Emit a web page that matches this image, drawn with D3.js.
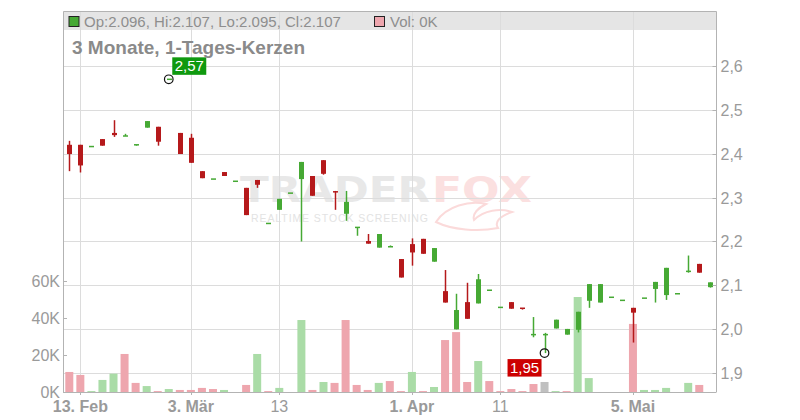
<!DOCTYPE html>
<html><head><meta charset="utf-8">
<script src="https://cdn.jsdelivr.net/npm/d3@7"></script>
<style>body{margin:0;background:#fff}svg{display:block;font-family:"Liberation Sans",Arial,sans-serif}</style>
</head><body><svg id="c" width="800" height="420"></svg>
<script>
// ---- data ----
const openP  = [2.420,2.420,2.416,2.433,2.447,2.440,2.418,2.459,2.461,2.569,2.447,2.436,2.360,2.342,2.358,2.337,2.322,2.340,2.241,2.272,2.310,2.342,2.349,2.385,2.313,2.263,2.229,2.201,2.186,2.188,2.160,2.194,2.206,2.154,2.087,2.000,2.062,2.059,2.089,2.050,2.062,2.048,1.988,1.988,2.002,1.988,1.999,2.065,2.061,2.073,2.066,2.049,2.071,2.092,2.078,2.081,2.129,2.149,2.096];
const highP  = [2.429,2.420,2.416,2.433,2.476,2.445,2.420,2.474,2.461,2.569,2.447,2.445,2.360,2.342,2.358,2.337,2.322,2.340,2.241,2.297,2.310,2.381,2.349,2.385,2.315,2.315,2.232,2.217,2.217,2.191,2.160,2.207,2.206,2.185,2.135,2.081,2.106,2.126,2.089,2.050,2.062,2.048,2.028,1.992,2.022,2.001,2.040,2.103,2.103,2.073,2.066,2.049,2.071,2.108,2.140,2.081,2.168,2.149,2.107];
const lowP   = [2.360,2.357,2.416,2.418,2.438,2.440,2.418,2.459,2.418,2.569,2.399,2.379,2.344,2.342,2.349,2.337,2.260,2.322,2.241,2.272,2.310,2.200,2.304,2.352,2.272,2.247,2.213,2.195,2.186,2.188,2.118,2.145,2.172,2.154,2.061,2.000,2.024,2.059,2.089,2.050,2.047,2.045,1.982,1.946,2.002,1.988,1.993,2.049,2.061,2.073,2.066,1.970,2.071,2.061,2.067,2.081,2.129,2.129,2.095];
const closeP = [2.399,2.373,2.416,2.418,2.442,2.440,2.420,2.474,2.427,2.569,2.399,2.379,2.344,2.342,2.349,2.337,2.260,2.329,2.241,2.297,2.310,2.381,2.304,2.354,2.312,2.290,2.232,2.195,2.217,2.188,2.118,2.175,2.172,2.185,2.061,2.044,2.024,2.114,2.089,2.050,2.047,2.045,1.988,1.988,2.022,2.001,2.040,2.103,2.103,2.073,2.066,2.038,2.071,2.108,2.140,2.081,2.132,2.129,2.107];
const volumeK = [10.8,9.2,0.5,6.5,9.9,20.5,4.9,3.2,0.5,1.6,1.1,1.1,2.2,1.6,1.1,0,3.8,20.5,0.5,2.2,0,38.8,1.1,5.4,4.9,38.8,3.8,1.1,4.9,5.9,0.5,10.8,0.5,2.7,28.0,32.3,5.4,16.7,5.9,0.5,1.6,0.5,4.3,5.4,0.5,0.5,51.2,7.5,0,0,0,36.7,1.1,1.1,2.2,0,4.9,3.8,0];
const xTickIndex  = [1, 11, 19, 31, 39, 51];
const xTickLabels = ["13. Feb", "3. Mär", "13", "1. Apr", "11", "5. Mai"];
const priceTicks  = [1.9, 2.0, 2.1, 2.2, 2.3, 2.4, 2.5, 2.6];
const volumeTicks = [0, 20000, 40000, 60000];
const titleText = "3 Monate, 1-Tages-Kerzen";
const lastIdx = openP.length - 1;

// ---- layout ----
const L = 63, R = 716.5, T = 11.5, LB = 30, B = 392;
const svg = d3.select("#c");
const x = d3.scaleLinear().domain([-0.57, 58.56]).range([L, R]);
const y = d3.scaleLinear().domain([1.9, 2.6]).range([373.3, 65.7]);
const yv = d3.scaleLinear().domain([0, 60000]).range([B, 280.7]);
const fmtP = v => d3.format(".1f")(v).replace(".", ",");
const fmt2 = v => d3.format(".2f")(v).replace(".", ",");
const fmt3 = v => d3.format(".3f")(v);

const RED = "#b5191b", GREEN = "#46a934";
const VPINK = "#eea6ae", VGREEN = "#aadca7", VGRAY = "#c0c0c0";

const data = openP.map((o, i) => ({i, o, h: highP[i], l: lowP[i], c: closeP[i], v: volumeK[i] * 1000}));

// legend bar
svg.append("rect").attr("x", L).attr("y", T).attr("width", R - L).attr("height", LB - T).attr("fill", "#e5e5e5");

// watermark
const wm = svg.append("g");
wm.append("text").attr("x", 240).attr("y", 202).attr("font-size", 36).attr("font-weight", "bold")
  .attr("font-family", "DejaVu Sans").attr("textLength", 190).attr("lengthAdjust", "spacingAndGlyphs")
  .attr("fill", "#e8e8e8").text("TRADER");
wm.append("text").attr("x", 432).attr("y", 202).attr("font-size", 36).attr("font-weight", "bold")
  .attr("font-family", "DejaVu Sans").attr("textLength", 100).attr("lengthAdjust", "spacingAndGlyphs")
  .attr("fill", "#fbe0e0").text("FOX");
wm.append("text").attr("x", 251).attr("y", 222).attr("font-size", 10.5)
  .attr("textLength", 177).attr("lengthAdjust", "spacing")
  .attr("fill", "#e3e3e3").text("REALTIME STOCK SCREENING");
wm.append("path").attr("d", "M436,222 C446,206 470,200 486,204 C478,208 472,214 474,220 C484,210 500,208 512,212 C500,216 494,222 498,228 C478,232 452,230 436,222 Z")
  .attr("fill", "none").attr("stroke", "#fbdada").attr("stroke-width", 2);

// grid
svg.append("g").selectAll("line").data(priceTicks).join("line")
  .attr("x1", L).attr("x2", R).attr("y1", d => Math.round(y(d)) + 0.5).attr("y2", d => Math.round(y(d)) + 0.5)
  .attr("stroke", "#dcdcdc");
svg.append("g").selectAll("line").data(xTickIndex).join("line")
  .attr("x1", d => Math.round(x(d)) + 0.5).attr("x2", d => Math.round(x(d)) + 0.5).attr("y1", T).attr("y2", B)
  .attr("stroke", "#dcdcdc");

// frame
svg.append("path").attr("d", `M${L+0.5},${B} V${T} H${R} V${B}`).attr("fill", "none").attr("stroke", "#b3b3b3");
svg.append("line").attr("x1", L).attr("x2", R).attr("y1", B + 0.5).attr("y2", B + 0.5).attr("stroke", "#b3b3b3");

// volume bars
const vcol = d => {
  const prev = d.i > 0 ? closeP[d.i - 1] : d.o;
  return d.c > prev ? VGREEN : (d.c < prev ? VPINK : VGRAY);
};
svg.append("g").selectAll("rect").data(data.filter(d => d.v > 0)).join("rect")
  .attr("x", d => x(d.i) - 4).attr("width", 8)
  .attr("y", d => yv(d.v)).attr("height", d => B - yv(d.v))
  .attr("fill", vcol);

// candles
const cg = svg.append("g");
const col = d => d.c >= d.o ? GREEN : RED;
cg.selectAll("line").data(data).join("line")
  .attr("x1", d => Math.round(x(d.i)) + 0.5).attr("x2", d => Math.round(x(d.i)) + 0.5)
  .attr("y1", d => y(d.h)).attr("y2", d => y(d.l))
  .attr("stroke", col).attr("stroke-width", 1.5);
cg.selectAll("rect").data(data).join("rect")
  .attr("x", d => Math.round(x(d.i)) - 2).attr("width", 5)
  .attr("y", d => Math.min(y(d.o), y(d.c)) - (Math.abs(y(d.o) - y(d.c)) < 1.5 ? 0.75 : 0))
  .attr("height", d => Math.max(1.5, Math.abs(y(d.o) - y(d.c))))
  .attr("fill", col);

// high / low markers
const hiD = data[d3.maxIndex(data, d => d.h)];
const loD = data[d3.minIndex(data, d => d.l)];
function marker(d, val, isHigh) {
  const cx = x(d.i), cy = y(val);
  svg.append("circle").attr("cx", cx).attr("cy", cy).attr("r", 4.3).attr("fill", "none").attr("stroke", "#111").attr("stroke-width", 1.2);
  const w = 34, h = 17.5;
  const bx = isHigh ? cx + 3.5 : cx - 37;
  const by = isHigh ? cy - 22 : cy + 6;
  svg.append("rect").attr("x", bx).attr("y", by).attr("width", w).attr("height", h).attr("fill", isHigh ? "#0f990f" : "#cc0000");
  svg.append("text").attr("x", bx + w / 2).attr("y", by + 14).attr("text-anchor", "middle")
    .attr("font-size", 15).attr("fill", "#fff").text(fmt2(val));
}
marker(hiD, hiD.h, true);
marker(loD, loD.l, false);

// right price axis
const ra = svg.append("g");
ra.selectAll("line").data(priceTicks).join("line")
  .attr("x1", R - 4).attr("x2", R).attr("y1", d => Math.round(y(d)) + 0.5).attr("y2", d => Math.round(y(d)) + 0.5).attr("stroke", "#b3b3b3");
ra.selectAll("text").data(priceTicks).join("text")
  .attr("x", R + 4).attr("y", d => y(d) + 6).attr("font-size", 16).attr("fill", "#9a9a9a").text(fmtP);

// left volume axis
const la = svg.append("g");
la.selectAll("line").data(volumeTicks).join("line")
  .attr("x1", L).attr("x2", L + 4).attr("y1", d => Math.round(yv(d)) + 0.5).attr("y2", d => Math.round(yv(d)) + 0.5).attr("stroke", "#b3b3b3");
la.selectAll("text").data(volumeTicks).join("text")
  .attr("x", L - 3).attr("y", d => yv(d) + 6).attr("text-anchor", "end").attr("font-size", 16).attr("fill", "#9a9a9a")
  .text(d => (d / 1000) + "K");

// bottom axis
const ba = svg.append("g");
ba.selectAll("line").data(xTickIndex).join("line")
  .attr("x1", d => Math.round(x(d)) + 0.5).attr("x2", d => Math.round(x(d)) + 0.5).attr("y1", B).attr("y2", B + 3).attr("stroke", "#b3b3b3");
ba.selectAll("text").data(xTickIndex).join("text")
  .attr("x", d => x(d)).attr("y", 412).attr("text-anchor", "middle").attr("font-size", 16).attr("fill", "#9a9a9a")
  .attr("font-weight", (d, k) => xTickLabels[k].includes(". ") ? "bold" : "normal")
  .text((d, k) => xTickLabels[k]);

// legend
const last = data[lastIdx];
svg.append("rect").attr("x", 69).attr("y", 16.5).attr("width", 10).attr("height", 10).attr("fill", GREEN).attr("stroke", "#222");
svg.append("text").attr("x", 84).attr("y", 27.3).attr("font-size", 15).attr("fill", "#8e8e8e")
  .text(`Op:${fmt3(last.o)}, Hi:${fmt3(last.h)}, Lo:${fmt3(last.l)}, Cl:${fmt3(last.c)}`);
svg.append("rect").attr("x", 374.5).attr("y", 16.5).attr("width", 10).attr("height", 10).attr("fill", VPINK).attr("stroke", "#222");
svg.append("text").attr("x", 390).attr("y", 27.3).attr("font-size", 15).attr("fill", "#8e8e8e")
  .text(`Vol: ${Math.round(last.v / 1000)}K`);

// title
svg.append("text").attr("x", 72).attr("y", 54).attr("font-size", 19).attr("font-weight", "bold").attr("fill", "#8a8a8a").text(titleText);
</script></body></html>
